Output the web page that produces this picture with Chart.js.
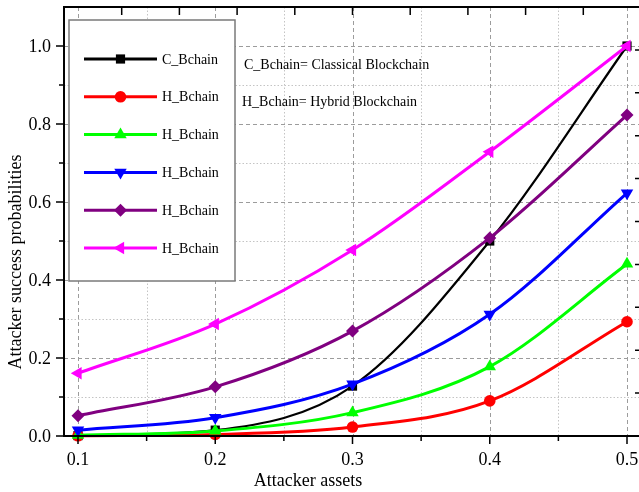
<!DOCTYPE html>
<html>
<head>
<meta charset="utf-8">
<script src="https://cdn.jsdelivr.net/npm/chart.js@4.4.1/dist/chart.umd.min.js"></script>
<style>
  html, body { margin: 0; padding: 0; background: #fff; overflow: hidden; }
  canvas { display: block; }
</style>
</head>
<body>
<canvas id="c" width="645" height="492"></canvas>
<script>
/* ---------------- data ---------------- */
const assets = [0.1, 0.2, 0.3, 0.4, 0.5];
const cBchain = [0.001, 0.015, 0.128, 0.5, 1.0];
const hBchainRed = [0.0005, 0.004, 0.023, 0.09, 0.293];
const hBchainGreen = [0.002, 0.013, 0.06, 0.178, 0.441];
const hBchainBlue = [0.015, 0.047, 0.133, 0.312, 0.623];
const hBchainPurple = [0.052, 0.126, 0.269, 0.508, 0.823];
const hBchainMagenta = [0.161, 0.287, 0.477, 0.729, 1.0];
const seriesLabels = ['C_Bchain', 'H_Bchain', 'H_Bchain', 'H_Bchain', 'H_Bchain', 'H_Bchain'];

const xMajor = [0.1, 0.2, 0.3, 0.4, 0.5];
const xMinor = [0.15, 0.25, 0.35, 0.45];
const yMajor = [0.0, 0.2, 0.4, 0.6, 0.8, 1.0];
const yMinor = [0.1, 0.3, 0.5, 0.7, 0.9];
const notes = ['C_Bchain= Classical Blockchain', 'H_Bchain= Hybrid Blockchain'];
const xTitle = 'Attacker assets';
const yTitle = 'Attacker success probabilities';

/* ---------------- styles ---------------- */
const serif = "'Liberation Serif', 'Times New Roman', serif";
const styles = [
  { color: '#000000', shape: 'rect', rot: 0, r: 6.5, w: 2.2 },
  { color: '#ff0000', shape: 'circle', rot: 0, r: 5.8, w: 3 },
  { color: '#00ff00', shape: 'triangle', rot: 0, r: 7.2, w: 3 },
  { color: '#0000ff', shape: 'triangle', rot: 180, r: 7.2, w: 3 },
  { color: '#800080', shape: 'rectRot', rot: 0, r: 6.5, w: 3 },
  { color: '#ff00ff', shape: 'triangle', rot: 270, r: 7.2, w: 3 }
];
const allSeries = [cBchain, hBchainRed, hBchainGreen, hBchainBlue, hBchainPurple, hBchainMagenta];

function drawMarker(ctx, s, x, y) {
  const r = s.r;
  ctx.save();
  ctx.fillStyle = s.color;
  ctx.beginPath();
  if (s.shape === 'circle') {
    ctx.arc(x, y, r, 0, Math.PI * 2);
  } else if (s.shape === 'rect') {
    const h = r * Math.SQRT1_2;
    ctx.rect(x - h, y - h, 2 * h, 2 * h);
  } else if (s.shape === 'rectRot') {
    ctx.moveTo(x, y - r); ctx.lineTo(x + r, y); ctx.lineTo(x, y + r); ctx.lineTo(x - r, y);
  } else {
    let a = s.rot * Math.PI / 180;
    ctx.moveTo(x + Math.sin(a) * r, y - Math.cos(a) * r);
    a += 2 * Math.PI / 3;
    ctx.lineTo(x + Math.sin(a) * r, y - Math.cos(a) * r);
    a += 2 * Math.PI / 3;
    ctx.lineTo(x + Math.sin(a) * r, y - Math.cos(a) * r);
  }
  ctx.closePath();
  ctx.fill();
  ctx.restore();
}

/* ---------------- grid, frame, legend, texts ---------------- */
const framePlugin = {
  id: 'frame',
  beforeDatasetsDraw(chart) {
    const { ctx, chartArea: a, scales: { x, y } } = chart;
    ctx.save();
    ctx.lineWidth = 1;
    // minor dotted grid
    ctx.strokeStyle = '#c4c4c4';
    ctx.setLineDash([1.5, 2]);
    ctx.beginPath();
    xMinor.forEach(v => { const p = Math.round(x.getPixelForValue(v)) + 0.5; ctx.moveTo(p, a.top); ctx.lineTo(p, a.bottom); });
    yMinor.forEach(v => { const p = Math.round(y.getPixelForValue(v)) + 0.5; ctx.moveTo(a.left, p); ctx.lineTo(a.right, p); });
    ctx.stroke();
    // major dashed grid
    ctx.strokeStyle = '#9c9c9c';
    ctx.setLineDash([4, 3]);
    ctx.beginPath();
    xMajor.forEach(v => { const p = Math.round(x.getPixelForValue(v)) + 0.5; ctx.moveTo(p, a.top); ctx.lineTo(p, a.bottom); });
    yMajor.filter(v => v > 0).forEach(v => { const p = Math.round(y.getPixelForValue(v)) + 0.5; ctx.moveTo(a.left, p); ctx.lineTo(a.right, p); });
    ctx.stroke();
    ctx.restore();
  },
  afterDatasetsDraw(chart) {
    const { ctx } = chart;
    ctx.save();
    // legend box
    ctx.fillStyle = '#ffffff';
    ctx.fillRect(69, 20, 166, 261);
    ctx.strokeStyle = '#7a7a7a';
    ctx.lineWidth = 1.5;
    ctx.strokeRect(69, 20, 166, 261);
    ctx.font = '14px ' + serif;
    ctx.textBaseline = 'middle';
    ctx.textAlign = 'left';
    chart.data.datasets.forEach((ds, i) => {
      const s = styles[i];
      const ry = 59 + i * 37.8;
      ctx.strokeStyle = s.color;
      ctx.lineWidth = 3;
      ctx.beginPath();
      ctx.moveTo(84, ry); ctx.lineTo(157, ry);
      ctx.stroke();
      drawMarker(ctx, s, 120.5, ry);
      ctx.fillStyle = '#000';
      ctx.fillText(ds.label, 162, ry + 1);
    });
    // notes
    ctx.fillText(notes[0], 244, 65);
    ctx.fillText(notes[1], 242, 102);
    ctx.restore();
  },
  afterDraw(chart) {
    const { ctx, chartArea: a, scales: { x, y } } = chart;
    ctx.save();
    ctx.strokeStyle = '#000';
    ctx.lineWidth = 2;
    ctx.beginPath();
    ctx.moveTo(a.left, a.top); ctx.lineTo(a.right, a.top);
    ctx.moveTo(a.left, a.top - 1); ctx.lineTo(a.left, a.bottom + 1);
    ctx.moveTo(a.left - 1, a.bottom); ctx.lineTo(a.right, a.bottom);
    ctx.moveTo(a.right, a.top); ctx.lineTo(a.right, a.bottom);
    ctx.stroke();
    ctx.lineWidth = 1.5;
    ctx.beginPath();
    // left ticks (outward)
    yMajor.forEach(v => { const p = y.getPixelForValue(v); ctx.moveTo(a.left - 8, p); ctx.lineTo(a.left, p); });
    yMinor.forEach(v => { const p = y.getPixelForValue(v); ctx.moveTo(a.left - 5, p); ctx.lineTo(a.left, p); });
    // bottom ticks (outward)
    xMajor.forEach(v => { const p = x.getPixelForValue(v); ctx.moveTo(p, a.bottom); ctx.lineTo(p, a.bottom + 8); });
    xMinor.forEach(v => { const p = x.getPixelForValue(v); ctx.moveTo(p, a.bottom); ctx.lineTo(p, a.bottom + 5); });
    // top and right ticks (inward, 10 divisions)
    for (let k = 1; k < 10; k++) {
      const px = a.left + (a.right - a.left) * k / 10;
      ctx.moveTo(px, a.top); ctx.lineTo(px, a.top + 8);
      const py = a.bottom - (a.bottom - a.top) * k / 10;
      ctx.moveTo(a.right - 6, py); ctx.lineTo(a.right, py);
    }
    ctx.stroke();
    // tick labels
    ctx.fillStyle = '#000';
    ctx.font = '18px ' + serif;
    ctx.textAlign = 'center';
    ctx.textBaseline = 'alphabetic';
    xMajor.forEach(v => ctx.fillText(v.toFixed(1), x.getPixelForValue(v), a.bottom + 29));
    ctx.textAlign = 'right';
    ctx.textBaseline = 'middle';
    yMajor.forEach(v => ctx.fillText(v.toFixed(1), a.left - 13, y.getPixelForValue(v) + 1));
    // axis titles
    ctx.textAlign = 'center';
    ctx.textBaseline = 'alphabetic';
    ctx.fillText(xTitle, 308, 486);
    ctx.translate(21, 262);
    ctx.rotate(-Math.PI / 2);
    ctx.fillText(yTitle, 0, 0);
    ctx.restore();
  }
};

/* ---------------- chart ---------------- */
const datasets = allSeries.map((vals, i) => ({
  label: seriesLabels[i],
  data: assets.map((a, j) => ({ x: a, y: vals[j] })),
  borderColor: styles[i].color,
  backgroundColor: styles[i].color,
  borderWidth: styles[i].w,
  pointStyle: styles[i].shape,
  pointRotation: styles[i].rot,
  pointRadius: styles[i].r,
  pointBorderWidth: 0,
  pointBackgroundColor: styles[i].color,
  cubicInterpolationMode: 'monotone',
  fill: false,
  clip: false,
  order: allSeries.length - i
}));

new Chart(document.getElementById('c'), {
  type: 'line',
  data: { datasets },
  options: {
    responsive: false,
    animation: false,
    devicePixelRatio: 1,
    layout: { autoPadding: false, padding: { top: 7, right: 4, left: 0, bottom: 0 } },
    plugins: { legend: { display: false }, tooltip: { enabled: false } },
    scales: {
      x: {
        type: 'linear',
        min: 0.0898,
        max: 0.5102,
        grid: { display: false, drawTicks: false },
        border: { display: false },
        ticks: { display: false },
        afterFit: s => { s.height = 56; }
      },
      y: {
        type: 'linear',
        min: 0,
        max: 1.1,
        grid: { display: false, drawTicks: false },
        border: { display: false },
        ticks: { display: false },
        afterFit: s => { s.width = 64; }
      }
    }
  },
  plugins: [framePlugin]
});
</script>
</body>
</html>
